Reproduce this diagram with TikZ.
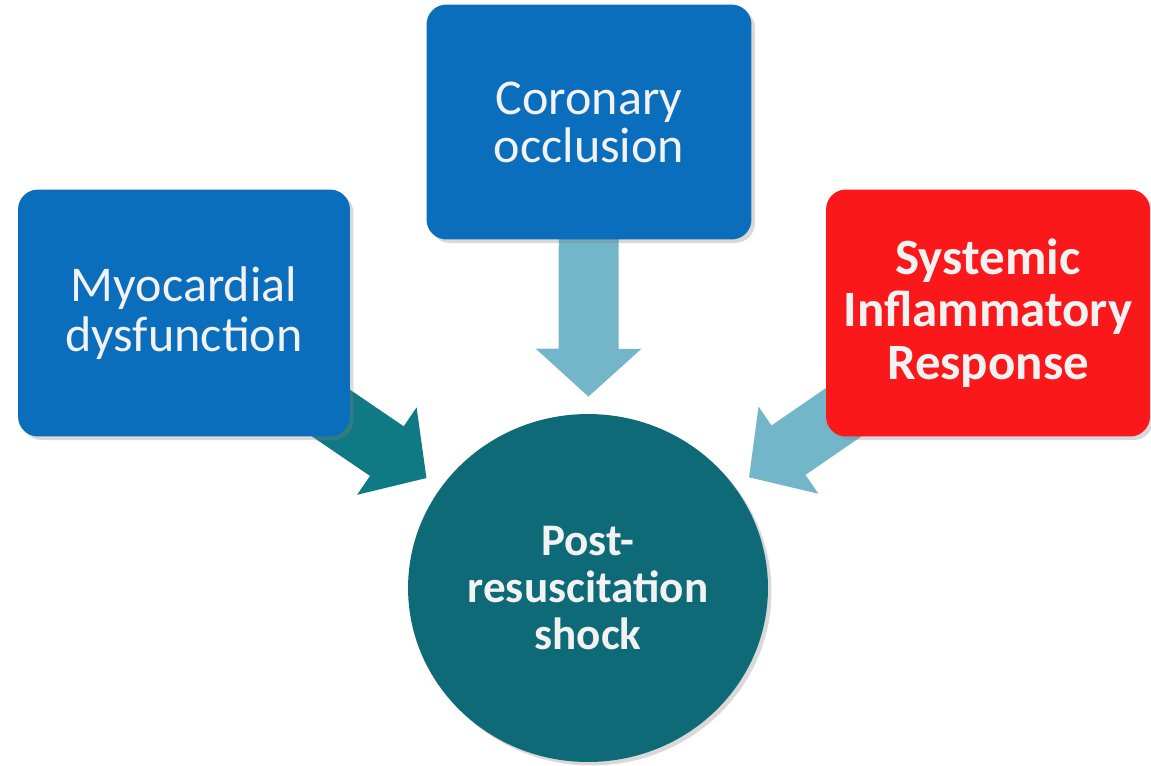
\documentclass[tikz,border=0pt]{standalone}
\usepackage{fontspec}
\setmainfont{Carlito}
\usetikzlibrary{arrows.meta,shapes.geometric,shadows,backgrounds}
\definecolor{boxblue}{RGB}{10,110,188}
\definecolor{boxred}{RGB}{250,24,26}
\definecolor{shockteal}{RGB}{14,106,118}
\definecolor{arrowteal}{RGB}{16,122,132}
\definecolor{arrowlight}{RGB}{116,182,201}
\definecolor{textwhite}{RGB}{242,242,242}
\begin{document}
\begin{tikzpicture}[x=0.02cm,y=-0.02cm,
    cause/.style={rectangle,rounded corners=0.4cm,fill=boxblue,text=textwhite,align=center,
        drop shadow={shadow xshift=2pt,shadow yshift=-2pt,opacity=0.3},
        font=\fontsize{28.5}{28.4}\selectfont},
    feed/.style={line width=1.2cm,-{Triangle[width=2.06cm,length=0.96cm]},shorten >=0.34cm}]
    \useasboundingbox (0,0) rectangle (1151,765);
    % the three causes
    \node[cause,minimum width=6.64cm,minimum height=4.94cm] (myo) at (184,313) {Myocardial\\dysfunction};
    \node[cause,minimum width=6.5cm,minimum height=4.7cm,font=\fontsize{28.5}{27.3}\selectfont] (cor) at (589,122) {Coronary\\occlusion};
    \node[cause,fill=boxred,minimum width=6.48cm,minimum height=4.94cm,font=\fontsize{29}{30}\selectfont\bfseries] (sir) at (988,313) {Systemic\\Inflammatory\\Response};
    % the result
    \node[ellipse,fill=shockteal,text=textwhite,align=center,minimum width=7.2cm,minimum height=6.96cm,
        drop shadow={shadow xshift=2pt,shadow yshift=-2pt,opacity=0.3},
        font=\fontsize{25.7}{26.7}\selectfont\bfseries] (shock) at (588,588) {Post-\\resuscitation\\shock};
    \begin{scope}[on background layer]
        \draw[feed,arrowteal] (myo.center) -- (shock);
        \draw[feed,arrowlight] (cor.center) -- (shock);
        \draw[feed,arrowlight] (sir.center) -- (shock);
    \end{scope}
\end{tikzpicture}
\end{document}
